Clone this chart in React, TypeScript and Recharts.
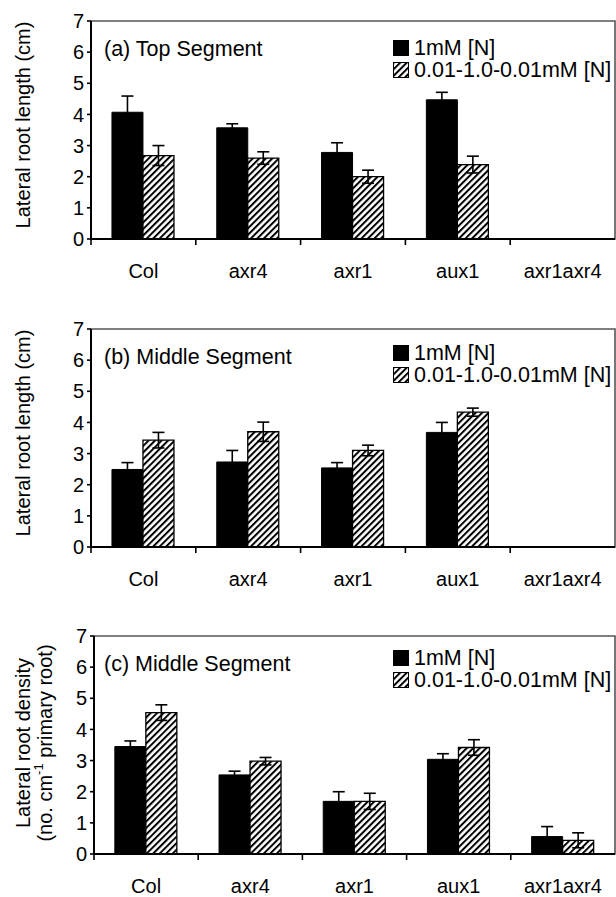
import { Bar, ComposedChart, ErrorBar, Legend, ReferenceArea, XAxis, YAxis } from "recharts";

const genotypes = ["Col", "axr4", "axr1", "aux1", "axr1axr4"];
const seriesNames = ["1mM [N]", "0.01-1.0-0.01mM [N]"];
const yTicks = [0, 1, 2, 3, 4, 5, 6, 7];

// (a) top segment, lateral root length (cm)
const topHigh = [4.07, 3.57, 2.78, 4.47, 0];
const topHighErr = [0.52, 0.13, 0.31, 0.24, 0];
const topPulse = [2.68, 2.6, 2.0, 2.39, 0];
const topPulseErr = [0.32, 0.2, 0.21, 0.27, 0];

// (b) middle segment, lateral root length (cm)
const midHigh = [2.49, 2.73, 2.54, 3.68, 0];
const midHighErr = [0.22, 0.37, 0.17, 0.32, 0];
const midPulse = [3.43, 3.7, 3.1, 4.33, 0];
const midPulseErr = [0.25, 0.31, 0.17, 0.13, 0];

// (c) middle segment, lateral root density
const denHigh = [3.45, 2.54, 1.69, 3.04, 0.56];
const denHighErr = [0.18, 0.12, 0.31, 0.18, 0.32];
const denPulse = [4.54, 2.98, 1.69, 3.42, 0.44];
const denPulseErr = [0.25, 0.12, 0.26, 0.25, 0.24];

const font = "'Liberation Sans', Arial, sans-serif";
const chartW = 616;
const chartH = 300;
const margin = { top: 21, right: 1, bottom: 0, left: 0 };

function Hatch({ id }: { id: string }) {
  return (
    <pattern id={id} patternUnits="userSpaceOnUse" width="4.6" height="4.6" patternTransform="rotate(45)">
      <rect width="4.6" height="4.6" fill="#fff" />
      <line x1="1" y1="0" x2="1" y2="4.6" stroke="#000" strokeWidth="2" />
    </pattern>
  );
}

// category label with a tick mark on the left edge of its band
function CatTick({ x, y, payload, band }: any) {
  const left = x - band / 2;
  return (
    <g>
      <line x1={left} y1={y} x2={left} y2={y + 6} stroke="#000" strokeWidth={1.6} />
      <text x={x} y={y + 25} dy="0.71em" textAnchor="middle" fontSize={20} fill="#000">
        {payload.value}
      </text>
    </g>
  );
}

function LegendBox({ payload, id }: { payload?: any[]; id: string }) {
  const items = [...(payload || [])].sort((a, b) => seriesNames.indexOf(a.value) - seriesNames.indexOf(b.value));
  return (
    <div style={{ fontFamily: font, fontSize: 21.5, color: "#000" }}>
      {items.map((p) => (
        <div key={p.value} style={{ display: "flex", alignItems: "center", height: 22, lineHeight: "22px", whiteSpace: "nowrap" }}>
          <svg width={16} height={16} style={{ marginRight: 5 }}>
            <defs>
              <Hatch id={`lg-${id}`} />
            </defs>
            <rect x={0.5} y={0.5} width={15} height={15} stroke="#000" fill={p.dataKey === "high" ? "#000" : `url(#lg-${id})`} />
          </svg>
          {p.value}
        </div>
      ))}
    </div>
  );
}

function Panel({
  id,
  top,
  axisX,
  title,
  yTitle,
  legendTop,
  high,
  highErr,
  pulse,
  pulseErr,
}: {
  id: string;
  top: number;
  axisX: number;
  title: string;
  yTitle: React.ReactNode;
  legendTop: number;
  high: number[];
  highErr: number[];
  pulse: number[];
  pulseErr: number[];
}) {
  const data = genotypes.map((g, i) => ({
    g,
    high: high[i],
    highErr: highErr[i],
    pulse: pulse[i],
    pulseErr: pulseErr[i],
  }));
  const band = (chartW - margin.left - margin.right - axisX) / genotypes.length;
  return (
    <div style={{ position: "absolute", left: 0, top, width: chartW, height: chartH }}>
      <ComposedChart width={chartW} height={chartH} data={data} margin={margin} barCategoryGap="20%" barGap={0}>
        <defs>
          <Hatch id={`hatch-${id}`} />
        </defs>
        {/* plot frame (top / right border) */}
        <ReferenceArea xAxisId="cat" y1={0} y2={7} fill="none" fillOpacity={0} stroke="#555" strokeWidth={1.6} />
        <XAxis
          xAxisId="cat"
          dataKey="g"
          height={61}
          interval={0}
          axisLine={{ stroke: "#000", strokeWidth: 2 }}
          tickLine={false}
          tickSize={0}
          tickMargin={0}
          tick={(p: any) => <CatTick {...p} band={band} />}
        />
        <YAxis
          width={axisX}
          domain={[0, 7]}
          ticks={yTicks}
          interval={0}
          axisLine={{ stroke: "#000", strokeWidth: 2 }}
          tickLine={{ stroke: "#000", strokeWidth: 1.6 }}
          tickSize={4}
          tickMargin={3}
          tick={{ fill: "#000", fontSize: 20 }}
          label={{ position: "insideLeft", content: () => yTitle }}
        />
        <Bar xAxisId="cat" dataKey="high" name={seriesNames[0]} fill="#000" stroke="#000" isAnimationActive={false}>
          <ErrorBar dataKey="highErr" width={6} stroke="#000" strokeWidth={1.6} />
        </Bar>
        <Bar xAxisId="cat" dataKey="pulse" name={seriesNames[1]} fill={`url(#hatch-${id})`} stroke="#000" strokeWidth={1.3} isAnimationActive={false}>
          <ErrorBar dataKey="pulseErr" width={6} stroke="#000" strokeWidth={1.6} />
        </Bar>
        <Legend
          layout="horizontal"
          verticalAlign="middle"
          align="center"
          wrapperStyle={{ left: 393, top: legendTop, width: 222 }}
          content={(props: any) => <LegendBox payload={props.payload} id={id} />}
        />
      </ComposedChart>
      <div style={{ position: "absolute", left: 104, top: 38, fontFamily: font, fontSize: 21.5, lineHeight: "22px", color: "#000" }}>
        {title}
      </div>
    </div>
  );
}

export default function App() {
  return (
    <div style={{ position: "absolute", left: 0, top: 0, width: 616, height: 897, background: "#fff", fontFamily: font }}>
      <Panel
        id="a"
        top={0}
        axisX={91}
        title="(a) Top Segment"
        legendTop={37}
        high={topHigh}
        highErr={topHighErr}
        pulse={topPulse}
        pulseErr={topPulseErr}
        yTitle={
          <text x={23} y={125} transform="rotate(-90 23 125)" textAnchor="middle" dominantBaseline="central" fontSize={20} fill="#000">
            Lateral root length (cm)
          </text>
        }
      />
      <Panel
        id="b"
        top={308}
        axisX={91}
        title="(b) Middle Segment"
        legendTop={34}
        high={midHigh}
        highErr={midHighErr}
        pulse={midPulse}
        pulseErr={midPulseErr}
        yTitle={
          <text x={23} y={125} transform="rotate(-90 23 125)" textAnchor="middle" dominantBaseline="central" fontSize={20} fill="#000">
            Lateral root length (cm)
          </text>
        }
      />
      <Panel
        id="c"
        top={615}
        axisX={94}
        title="(c) Middle Segment"
        legendTop={32}
        high={denHigh}
        highErr={denHighErr}
        pulse={denPulse}
        pulseErr={denPulseErr}
        yTitle={
          <g transform="rotate(-90 0 128)">
            <text x={0} y={128 + 23} textAnchor="middle" dominantBaseline="central" fontSize={20} fill="#000">
              Lateral root density
            </text>
            <text x={0} y={128 + 45} textAnchor="middle" dominantBaseline="central" fontSize={20} fill="#000">
              (no. cm
              <tspan dy={-7} fontSize={13}>-1</tspan>
              <tspan dy={7}> primary root)</tspan>
            </text>
          </g>
        }
      />
    </div>
  );
}
